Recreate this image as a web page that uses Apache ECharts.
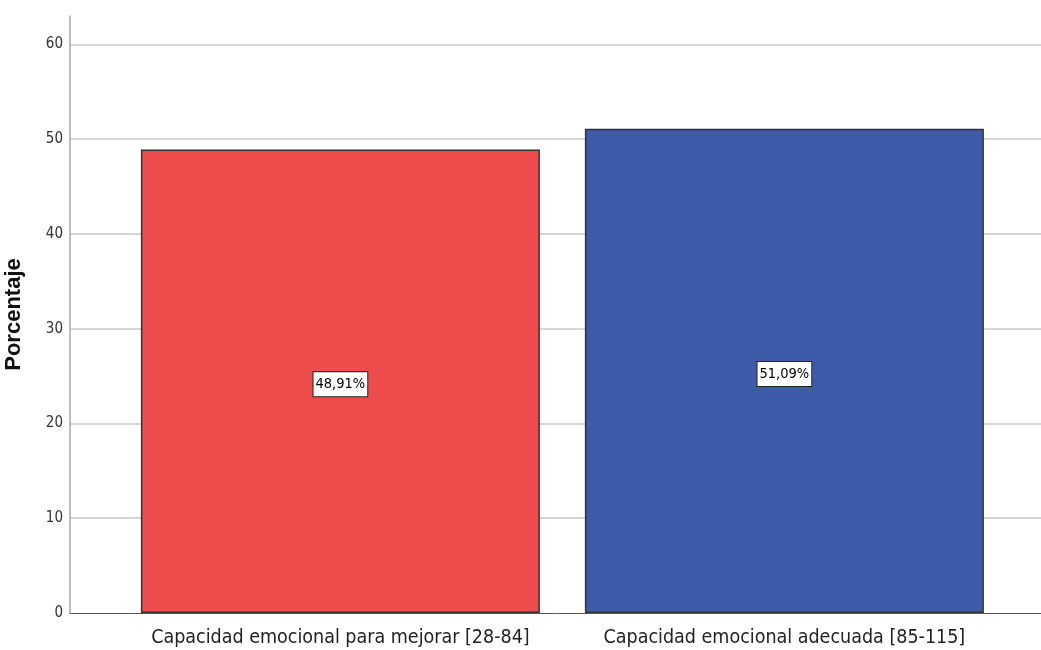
<!DOCTYPE html>
<html>
<head>
<meta charset="utf-8">
<script src="https://cdn.jsdelivr.net/npm/echarts@6/dist/echarts.min.js"></script>
<style>
html,body{margin:0;padding:0;background:#fff;}
#c{width:1041px;height:650px;}
</style>
</head>
<body>
<div id="c"></div>
<script>
var categories = ['Capacidad emocional para mejorar [28-84]', 'Capacidad emocional adecuada [85-115]'];
var values = [48.91, 51.09];
var barColors = ['#EE4B4C', '#3E5BA9'];
var yTicks = [0, 10, 20, 30, 40, 50, 60];

var NARROW = '"Liberation Sans Narrow", "Arial Narrow", "DejaVu Sans Condensed", sans-serif';
var chart = echarts.init(document.getElementById('c'), null, {renderer: 'canvas'});
var positions = categories.map(function (_, i) { return i; });

chart.setOption({
  animation: false,
  grid: {left: 70, right: 0, top: 16, bottom: 37, containLabel: false, outerBoundsMode: 'none'},
  xAxis: {
    type: 'value',
    min: -0.609,
    max: 1.578,
    axisLine: {show: true, onZero: false, lineStyle: {color: '#555', width: 1}},
    axisTick: {show: false},
    splitLine: {show: false},
    axisLabel: {
      customValues: positions,
      formatter: function (v) { return categories[Math.round(v)] || ''; },
      color: '#222',
      fontFamily: NARROW,
      fontSize: 19.5,
      margin: 15
    }
  },
  yAxis: {
    type: 'value',
    min: 0,
    max: 63,
    interval: 10,
    name: 'Porcentaje',
    nameLocation: 'middle',
    nameGap: 45,
    nameTextStyle: {fontSize: 22, fontWeight: 'bold', color: '#111', fontFamily: 'Liberation Sans, Arial, sans-serif'},
    axisLine: {show: true, onZero: false, lineStyle: {color: '#aaa', width: 1.5}},
    axisTick: {show: false},
    axisLabel: {
      showMaxLabel: false,
      formatter: function (v) { return yTicks.indexOf(v) >= 0 ? String(v) : ''; },
      color: '#333',
      fontSize: 15,
      margin: 7,
      fontFamily: NARROW
    },
    splitLine: {show: true, showMinLine: false, showMaxLine: false, lineStyle: {color: '#c8c8c8', width: 1.5}}
  },
  series: [{
    type: 'bar',
    barWidth: 399,
    data: values.map(function (v, i) {
      return {value: [positions[i], v], itemStyle: {color: barColors[i]}};
    }),
    itemStyle: {borderColor: '#333', borderWidth: 1.5},
    label: {
      show: true,
      position: 'inside',
      offset: [0, 3],
      formatter: function (p) { return p.value[1].toFixed(2).replace('.', ',') + '%'; },
      color: '#000',
      backgroundColor: '#fff',
      borderColor: '#222',
      borderWidth: 1,
      padding: [5, 2, 4, 2],
      fontSize: 14.5,
      fontFamily: NARROW
    }
  }]
});
</script>
</body>
</html>
